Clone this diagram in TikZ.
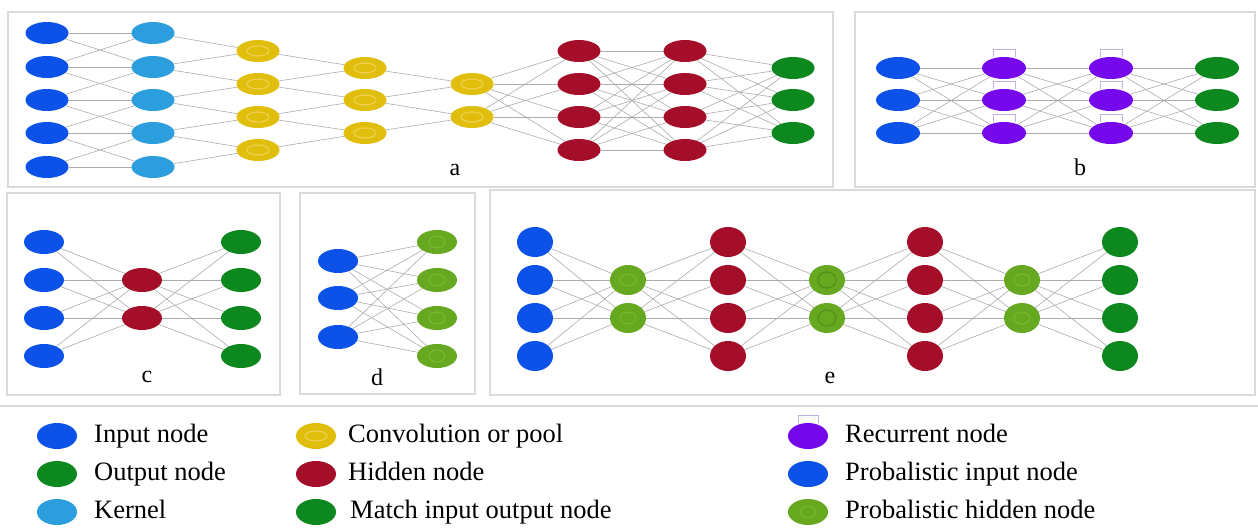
\documentclass[tikz,border=0pt]{standalone}
\usepackage{fontspec}
\setmainfont{Liberation Serif}
\usetikzlibrary{shapes.geometric}
\definecolor{inblue}{RGB}{12,82,232}
\definecolor{kerblue}{RGB}{44,158,222}
\definecolor{convy}{RGB}{226,190,12}
\definecolor{convring}{RGB}{238,208,80}
\definecolor{hidred}{RGB}{164,14,40}
\definecolor{outgreen}{RGB}{12,136,30}
\definecolor{recpurple}{RGB}{118,8,236}
\definecolor{recloop}{RGB}{195,175,225}
\definecolor{probgreen}{RGB}{102,168,32}
\definecolor{probring}{RGB}{122,186,50}
\definecolor{probdark}{RGB}{80,145,25}
\definecolor{edgegray}{RGB}{172,172,172}
\definecolor{boxgray}{RGB}{218,218,218}
\pgfdeclarelayer{bg}
\pgfdeclarelayer{edges}
\pgfsetlayers{bg,edges,main}
\tikzset{
  nbase/.style={ellipse, inner sep=0pt, outer sep=0pt, draw=none},
  sa/.style={minimum width=43pt, minimum height=22pt},
  sb/.style={minimum width=44pt, minimum height=22pt},
  sc/.style={minimum width=40pt, minimum height=24pt},
  se/.style={minimum width=36pt, minimum height=30pt},
  sl/.style={minimum width=40pt, minimum height=26pt},
  inn/.style={nbase, fill=inblue},
  ker/.style={nbase, fill=kerblue},
  conv/.style={nbase, fill=convy, path picture={\draw[convring, line width=1.2pt] (path picture bounding box.center) ellipse [x radius=11pt, y radius=5pt];}},
  hid/.style={nbase, fill=hidred},
  outn/.style={nbase, fill=outgreen},
  rec/.style={nbase, fill=recpurple},
  prob/.style={nbase, fill=probgreen, path picture={\draw[probring, line width=1pt] (path picture bounding box.center) ellipse [x radius=8pt, y radius=6pt];}},
  probd/.style={nbase, fill=probgreen, path picture={\draw[probdark, line width=1.2pt] (path picture bounding box.center) ellipse [x radius=9pt, y radius=8pt];}},
  ed/.style={draw=edgegray, line width=0.6pt},
  loopline/.style={draw=recloop, line width=1pt},
  panel/.style={draw=boxgray, line width=1.8pt, fill=white},
  plabel/.style={font=\fontsize{24}{28}\selectfont, inner sep=0pt},
  ltext/.style={anchor=west, inner sep=0pt, text height=18pt, text depth=6pt, font=\fontsize{26.5}{30}\selectfont}
}
\begin{document}
\begin{tikzpicture}[x=1pt, y=-1pt]
\useasboundingbox (0,0) rectangle (1258,528);
\begin{pgfonlayer}{bg}
\fill[white] (0,0) rectangle (1258,528);
\draw[panel] (8,12) rectangle (833,187);
\draw[panel] (855,12) rectangle (1255,187);
\draw[panel] (7,193) rectangle (280,395);
\draw[panel] (300,193) rectangle (475,394);
\draw[panel] (490,190) rectangle (1255,395);
\draw[boxgray, line width=1.8pt] (0,406) -- (1258,406);
\end{pgfonlayer}

% ---------- panel a ----------
\foreach \y [count=\i] in {33,67,100,133,167} {
  \node[inn,sa] (a1-\i) at (47,\y) {};
  \node[ker,sa] (a2-\i) at (153,\y) {};
}
\foreach \y [count=\i] in {51,84,117,150} {
  \node[conv,sa] (a3-\i) at (258,\y) {};
  \node[hid,sa] (a6-\i) at (579,\y) {};
  \node[hid,sa] (a7-\i) at (685,\y) {};
}
\foreach \y [count=\i] in {68,100,133} {
  \node[conv,sa] (a4-\i) at (365,\y) {};
  \node[outn,sa] (a8-\i) at (793,\y) {};
}
\foreach \y [count=\i] in {84,117} {
  \node[conv,sa] (a5-\i) at (472,\y) {};
}
\node[plabel] (la) at (455,170) {a};
\begin{pgfonlayer}{edges}
\foreach \i/\j in {1/1,1/2,2/1,2/2,2/3,3/2,3/3,3/4,4/3,4/4,4/5,5/4,5/5}
  \draw[ed] (a1-\i) -- (a2-\j);
\foreach \i/\j in {1/1,2/1,2/2,3/2,3/3,4/3,4/4,5/4}
  \draw[ed] (a2-\i) -- (a3-\j);
\foreach \i/\j in {1/1,2/1,2/2,3/2,3/3,4/3}
  \draw[ed] (a3-\i) -- (a4-\j);
\foreach \i/\j in {1/1,2/1,2/2,3/2}
  \draw[ed] (a4-\i) -- (a5-\j);
\foreach \i in {1,2} \foreach \j in {1,...,4}
  \draw[ed] (a5-\i) -- (a6-\j);
\foreach \i in {1,...,4} \foreach \j in {1,...,4}
  \draw[ed] (a6-\i) -- (a7-\j);
\foreach \i in {1,...,4} \foreach \j in {1,2,3}
  \draw[ed] (a7-\i) -- (a8-\j);
\end{pgfonlayer}

% ---------- panel b ----------
\foreach \y [count=\i] in {68,100,133} {
  \node[inn,sb] (b1-\i) at (898,\y) {};
  \node[rec,sb] (b2-\i) at (1004,\y) {};
  \node[rec,sb] (b3-\i) at (1111,\y) {};
  \node[outn,sb] (b4-\i) at (1217,\y) {};
  \draw[loopline] ([xshift=-11pt]b2-\i.north) -- ++(0,-8) -- ++(22,0) -- ++(0,8);
  \draw[loopline] ([xshift=-11pt]b3-\i.north) -- ++(0,-8) -- ++(22,0) -- ++(0,8);
}
\node[plabel] (lb) at (1080,167) {b};
\begin{pgfonlayer}{edges}
\foreach \i in {1,2,3} \foreach \j in {1,2,3} {
  \draw[ed] (b1-\i) -- (b2-\j);
  \draw[ed] (b2-\i) -- (b3-\j);
  \draw[ed] (b3-\i) -- (b4-\j);
}
\end{pgfonlayer}

% ---------- panel c ----------
\foreach \y [count=\i] in {242,280,318,356} {
  \node[inn,sc] (c1-\i) at (44,\y) {};
  \node[outn,sc] (c3-\i) at (241,\y) {};
}
\foreach \y [count=\i] in {280,318} {
  \node[hid,sc] (c2-\i) at (142,\y) {};
}
\node[plabel] (lc) at (147,377) {c};
\begin{pgfonlayer}{edges}
\foreach \i in {1,...,4} \foreach \j in {1,2} {
  \draw[ed] (c1-\i) -- (c2-\j);
  \draw[ed] (c2-\j) -- (c3-\i);
}
\end{pgfonlayer}

% ---------- panel d ----------
\foreach \y [count=\i] in {261,298,337} {
  \node[inn,sc] (d1-\i) at (338,\y) {};
}
\foreach \y [count=\i] in {242,280,318,356} {
  \node[prob,sc] (d2-\i) at (437,\y) {};
}
\node[plabel] (ld) at (377,377) {d};
\begin{pgfonlayer}{edges}
\foreach \i in {1,2,3} \foreach \j in {1,...,4}
  \draw[ed] (d1-\i) -- (d2-\j);
\end{pgfonlayer}

% ---------- panel e ----------
\foreach \y [count=\i] in {242,280,318,356} {
  \node[inn,se] (e1-\i) at (535,\y) {};
  \node[hid,se] (e3-\i) at (728,\y) {};
  \node[hid,se] (e5-\i) at (925,\y) {};
  \node[outn,se] (e7-\i) at (1120,\y) {};
}
\foreach \y [count=\i] in {280,318} {
  \node[prob,se] (e2-\i) at (628,\y) {};
  \node[probd,se] (e4-\i) at (827,\y) {};
  \node[prob,se] (e6-\i) at (1022,\y) {};
}
\node[plabel] (le) at (830,378) {e};
\begin{pgfonlayer}{edges}
\foreach \i in {1,...,4} \foreach \j in {1,2} {
  \draw[ed] (e1-\i) -- (e2-\j);
  \draw[ed] (e2-\j) -- (e3-\i);
  \draw[ed] (e3-\i) -- (e4-\j);
  \draw[ed] (e4-\j) -- (e5-\i);
  \draw[ed] (e5-\i) -- (e6-\j);
  \draw[ed] (e6-\j) -- (e7-\i);
}
\end{pgfonlayer}

% ---------- legend ----------
\node[inn,sl] (k1) at (57,436) {};
\node[ltext] (t1) at (94,436) {Input node};
\node[outn,sl] (k2) at (57,474) {};
\node[ltext] (t2) at (94,474) {Output node};
\node[ker,sl] (k3) at (57,512) {};
\node[ltext] (t3) at (94,512) {Kernel};
\node[conv,sl] (k4) at (316,436) {};
\node[ltext] (t4) at (348,436) {Convolution or pool};
\node[hid,sl] (k5) at (316,474) {};
\node[ltext] (t5) at (348,474) {Hidden node};
\node[outn,sl] (k6) at (316,512) {};
\node[ltext] (t6) at (350,512) {Match input output node};
\node[rec,sl] (k7) at (808,436) {};
\draw[loopline] ([xshift=-10pt]k7.north) -- ++(0,-8) -- ++(20,0) -- ++(0,8);
\node[ltext] (t7) at (845,436) {Recurrent node};
\node[inn,sl] (k8) at (808,474) {};
\node[ltext] (t8) at (845,474) {Probalistic input node};
\node[prob,sl] (k9) at (808,512) {};
\node[ltext] (t9) at (845,512) {Probalistic hidden node};
\end{tikzpicture}
\end{document}
